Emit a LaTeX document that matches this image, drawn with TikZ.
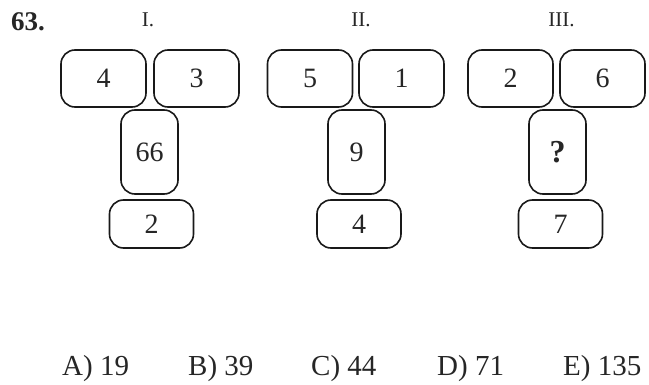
\documentclass[tikz,border=0pt]{standalone}
\usepackage{fontspec}
\setmainfont{Liberation Serif}
\begin{document}
\begin{tikzpicture}[x=1pt,y=-1pt,
  numbox/.style={draw=black!90, line width=1.6pt, rounded corners=14pt, inner sep=0pt,
    font=\fontsize{28}{30}\selectfont, text=black!85},
  widebox/.style={numbox, minimum width=85pt, minimum height=57pt},
  tallbox/.style={numbox, minimum width=57pt, minimum height=84pt},
  lowbox/.style={numbox, minimum width=84pt, minimum height=48pt},
  roman/.style={font=\fontsize{21}{23}\selectfont, text=black!85, anchor=base, inner sep=0pt},
  answer/.style={font=\fontsize{29}{31}\selectfont, text=black!85, anchor=base west, inner sep=0pt}]
\fill[white] (0,0) rectangle (649,385);
\useasboundingbox (0,0) rectangle (649,385);
\node[font=\bfseries\fontsize{27}{29}\selectfont, text=black!85, anchor=base west, inner sep=0pt] (num) at (11,31) {63.};
% Group I
\node[roman] (rI) at (148,27) {I.};
\node[widebox] (a1) at (103.5,78.5) {4};
\node[widebox] (b1) at (196.5,78.5) {3};
\node[tallbox] (c1) at (149.5,152) {66};
\node[lowbox] (d1) at (151.5,224) {2};
% Group II
\node[roman] (rII) at (361,27) {II.};
\node[widebox] (a2) at (310,78.5) {5};
\node[widebox] (b2) at (401.5,78.5) {1};
\node[tallbox] (c2) at (356.5,152) {9};
\node[lowbox] (d2) at (359,224) {4};
% Group III
\node[roman] (rIII) at (561.5,27) {III.};
\node[widebox] (a3) at (510.5,78.5) {2};
\node[widebox] (b3) at (602.5,78.5) {6};
\node[tallbox, font=\bfseries\fontsize{32}{34}\selectfont] (c3) at (557.5,152) {?};
\node[lowbox] (d3) at (560.5,224) {7};
% Answers
\node[answer] (ansA) at (62,375) {A) 19};
\node[answer] (ansB) at (188,375) {B) 39};
\node[answer] (ansC) at (311,375) {C) 44};
\node[answer] (ansD) at (437,375) {D) 71};
\node[answer] (ansE) at (563,375) {E) 135};
\end{tikzpicture}
\end{document}
